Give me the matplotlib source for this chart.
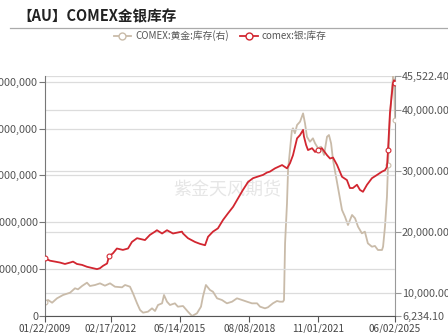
import matplotlib
matplotlib.use("Agg")
import matplotlib.pyplot as plt
import matplotlib.dates as mdates
from matplotlib.ticker import FuncFormatter, FixedLocator
from matplotlib.lines import Line2D
import pandas as pd

plt.rcParams['font.family'] = ['Noto Sans CJK SC', 'DejaVu Sans']

title = '【AU】COMEX金银库存'
gold_label = 'COMEX:黄金:库存(右)'
silver_label = 'comex:银:库存'
watermark = '紫金天风期货'

silver_t = [2009.06, 2009.29, 2009.53, 2009.76, 2009.99, 2010.23, 2010.37, 2010.55, 2010.79, 2011.02,
            2011.30, 2011.49, 2011.63, 2011.77, 2011.96, 2012.05, 2012.24, 2012.42, 2012.70, 2012.94,
            2013.12, 2013.36, 2013.73, 2013.96, 2014.20, 2014.29, 2014.53, 2014.76, 2015.04, 2015.46,
            2015.51, 2015.74, 2016.07, 2016.30, 2016.54, 2016.68, 2016.91, 2017.14, 2017.38, 2017.61,
            2017.85, 2018.08, 2018.31, 2018.55, 2018.78, 2019.11, 2019.25, 2019.43, 2019.57, 2019.81,
            2020.14, 2020.37, 2020.51, 2020.65, 2020.84, 2020.98, 2021.12, 2021.16, 2021.26, 2021.35,
            2021.54, 2021.68, 2021.82, 2022.00, 2022.24, 2022.38, 2022.52, 2022.71, 2022.94, 2023.17,
            2023.31, 2023.45, 2023.64, 2023.78, 2023.92, 2024.11, 2024.34, 2024.58, 2024.81, 2024.95,
            2025.04, 2025.09, 2025.18, 2025.32, 2025.37, 2025.42]
silver_v = [123, 118, 116, 114, 111, 114, 116, 111, 109, 105,
            102, 100, 102, 107, 112, 127, 134, 144, 141, 144,
            158, 166, 162, 173, 180, 183, 176, 183, 176, 180,
            176, 166, 158, 154, 151, 169, 180, 187, 205, 219,
            233, 251, 269, 286, 294, 299, 301, 306, 308, 315,
            322, 315, 326, 343, 379, 386, 397, 383, 365, 354,
            358, 350, 354, 358, 343, 336, 338, 322, 297, 290,
            273, 273, 280, 269, 265, 280, 294, 301, 308, 311,
            318, 354, 433, 497, 503, 497]  # million oz
silver_markers = [2009.06, 2012.05, 2021.82, 2025.09, 2025.42]

gold_t = [2009.06, 2009.20, 2009.39, 2009.62, 2009.90, 2010.23, 2010.46, 2010.60, 2010.79, 2011.02,
          2011.16, 2011.40, 2011.63, 2011.86, 2012.10, 2012.33, 2012.66, 2012.80, 2012.94, 2013.03,
          2013.17, 2013.36, 2013.50, 2013.64, 2013.87, 2014.06, 2014.20, 2014.34, 2014.53, 2014.62,
          2014.76, 2014.90, 2015.13, 2015.27, 2015.51, 2015.74, 2015.93, 2016.02, 2016.16, 2016.35,
          2016.44, 2016.58, 2016.77, 2016.91, 2017.10, 2017.33, 2017.56, 2017.80, 2018.03, 2018.27,
          2018.50, 2018.73, 2018.97, 2019.11, 2019.34, 2019.48, 2019.71, 2019.90, 2020.04, 2020.18,
          2020.23, 2020.28, 2020.37, 2020.42, 2020.60, 2020.65, 2020.74, 2020.84, 2020.98, 2021.12,
          2021.21, 2021.30, 2021.44, 2021.58, 2021.68, 2021.82, 2021.96, 2022.10, 2022.24, 2022.33,
          2022.43, 2022.52, 2022.66, 2022.80, 2022.94, 2023.08, 2023.22, 2023.41, 2023.55, 2023.69,
          2023.87, 2024.01, 2024.15, 2024.34, 2024.48, 2024.62, 2024.81, 2024.86, 2024.95, 2025.04,
          2025.09, 2025.18, 2025.28, 2025.33, 2025.37, 2025.42]
gold_v = [8575, 8850, 8410, 9130, 9670, 10050, 10770, 10600, 11145, 11690,
          11145, 11310, 11580, 11200, 11580, 11030, 10930, 11310, 11145, 11030,
          9950, 8310, 7215, 6780, 6940, 7490, 7050, 8035, 8310, 9670,
          8575, 8035, 8310, 7760, 7870, 6940, 6234.1, 6400, 6670, 7760,
          9390, 11310, 10490, 10210, 9130, 8850, 8310, 8575, 9130, 8850,
          8575, 8310, 8310, 7760, 7490, 7660, 8310, 8690, 8575, 8575,
          8853, 18130, 24680, 30130, 36680, 36960, 36140, 37500, 38040, 39400,
          37770, 35580, 34760, 35320, 34500, 33680, 33950, 32590, 35580, 35860,
          34500, 31770, 29040, 26320, 23590, 22490, 21130, 22770, 22230, 20850,
          19770, 20040, 18130, 17580, 17700, 17040, 17040, 17580, 20850, 25760,
          30950, 38860, 43770, 45522.4, 44860, 38320]
gold_markers = [2009.06, 2025.09, 2025.42]

x_ticks = ['2009-01-22', '2012-02-17', '2015-05-14', '2018-08-08', '2021-11-01', '2025-06-02']
left_ticks = [0, 100e6, 200e6, 300e6, 400e6, 500e6]
right_ticks = [6234.10, 10000, 20000, 30000, 40000, 45522.40]


def to_date(y):
    yr = int(y)
    return pd.Timestamp(f'{yr}-01-01') + pd.Timedelta(days=(y - yr) * 365.25)


s_dates = [to_date(t) for t in silver_t]
g_dates = [to_date(t) for t in gold_t]
s_vals = [v * 1e6 for v in silver_v]

RED = '#d22630'
TAN = '#c9bba9'
GRID = '#dcdcdc'
TXT = '#555555'

fig = plt.figure(figsize=(4.48, 3.33), dpi=100)
ax = fig.add_axes([45 / 448, 17 / 333, 350 / 448, 240 / 333])
ax2 = ax.twinx()

ax.set_zorder(2)
ax.patch.set_visible(False)

ax2.plot(g_dates, gold_v, color=TAN, lw=1.3, zorder=3,
         marker='o', ms=3.5, mfc='white', mec=TAN, mew=0.8,
         markevery=[gold_t.index(m) for m in gold_markers])
ax.plot(s_dates, s_vals, color=RED, lw=1.3, zorder=4,
        marker='o', ms=3.5, mfc='white', mec=RED, mew=0.8,
        markevery=[silver_t.index(m) for m in silver_markers])

xt = [pd.Timestamp(d) for d in x_ticks]
ax.set_xlim(xt[0], xt[-1])
ax.xaxis.set_major_locator(FixedLocator(mdates.date2num(xt)))
ax.xaxis.set_major_formatter(mdates.DateFormatter('%m/%d/%Y'))

ax.set_ylim(0, 512e6)
ax.yaxis.set_major_locator(FixedLocator(left_ticks))
ax.yaxis.set_major_formatter(FuncFormatter(lambda v, p: f'{v:,.0f}'))
ax2.set_ylim(right_ticks[0], right_ticks[-1])
ax2.yaxis.set_major_locator(FixedLocator(right_ticks))
ax2.yaxis.set_major_formatter(FuncFormatter(lambda v, p: f'{v:,.2f}'))

for a in (ax, ax2):
    a.tick_params(axis='both', labelsize=7, colors=TXT, length=4, width=0.8, pad=1)
    for sp in a.spines.values():
        sp.set_visible(False)
ax.grid(axis='y', color=GRID, lw=0.9)
ax2.grid(axis='y', color=GRID, lw=0.9)
ax2.set_axisbelow(True)
ax.spines['left'].set_visible(True)
ax.spines['left'].set_color('#777777')
ax.spines['bottom'].set_visible(True)
ax.spines['bottom'].set_color('#555555')
ax2.spines['right'].set_visible(True)
ax2.spines['right'].set_color('#999999')
ax.tick_params(axis='x', colors=TXT, labelcolor='#444444', labelsize=7.2, pad=1.5)
ax.tick_params(axis='y', colors='#777777', labelcolor=TXT, labelsize=7.8)
ax2.tick_params(axis='y', colors='#999999', labelcolor=TXT, labelsize=7.8)

ax2.text(0.52, 0.525, watermark, transform=ax.transAxes, fontsize=13,
         color='#e6e6e6', ha='center', va='center', zorder=0)

fig.text(17 / 448, 1 - 16 / 333, title, fontsize=10.5, fontweight='bold',
         color='#222222', ha='left', va='center')
fig.add_artist(Line2D([10 / 448, 1], [1 - 28 / 333, 1 - 28 / 333],
                      transform=fig.transFigure, color='#aaaaaa', lw=0.9))

handles = [Line2D([], [], color=TAN, lw=1.3, marker='o', ms=5, mfc='white', mec=TAN),
           Line2D([], [], color=RED, lw=1.3, marker='o', ms=5, mfc='white', mec=RED)]
fig.legend(handles, [gold_label, silver_label], loc='center',
           bbox_to_anchor=(220 / 448, 1 - 36 / 333), ncol=2, frameon=False,
           fontsize=7, labelcolor='#555555', handlelength=1.8, handletextpad=0.4,
           columnspacing=1.2, borderaxespad=0)

fig.savefig('out.png', dpi=100)
